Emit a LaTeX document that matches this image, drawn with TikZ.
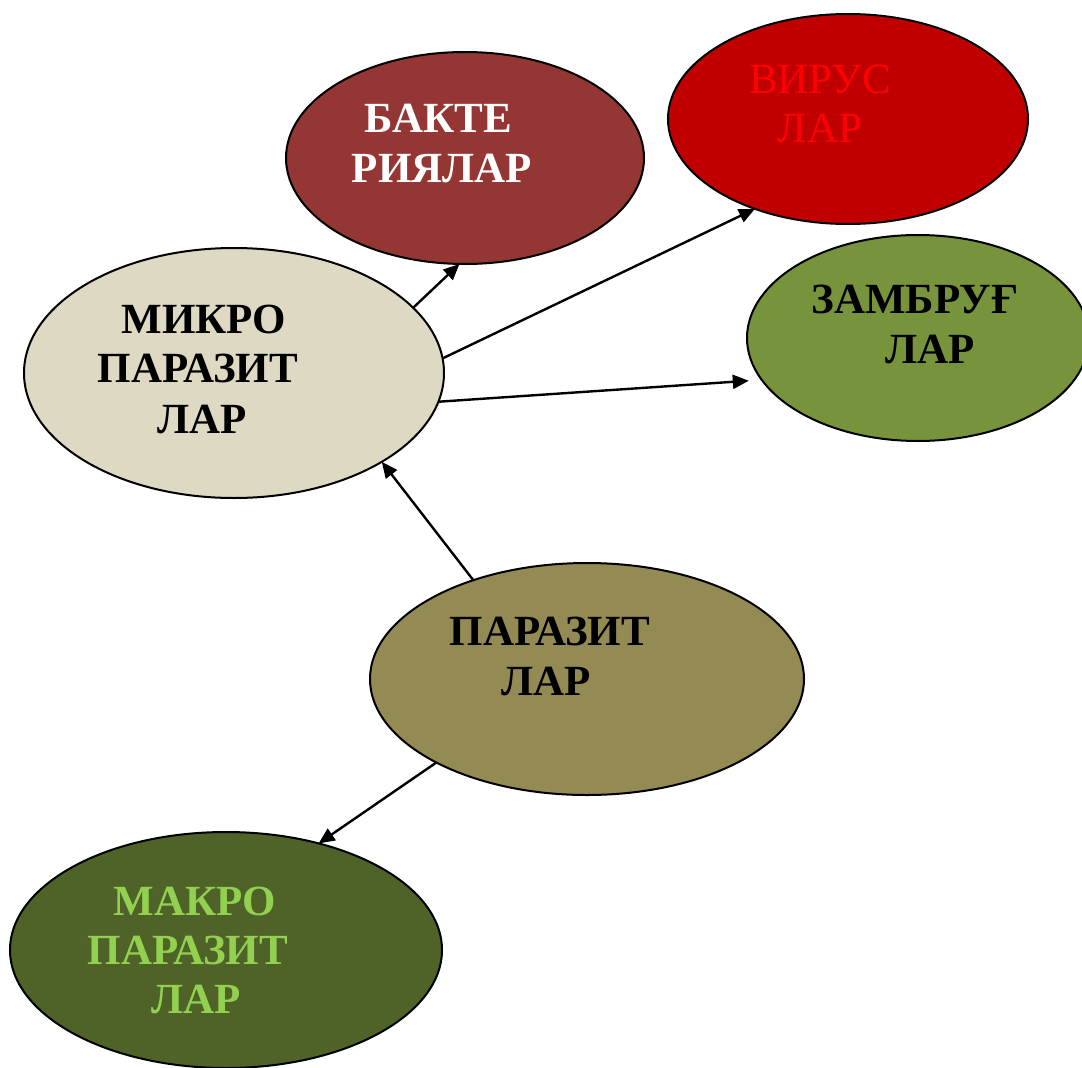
\documentclass[tikz,border=0pt]{standalone}
\usepackage{fontspec}
\setmainfont{Liberation Serif}
\usetikzlibrary{arrows.meta,shapes.geometric}

\definecolor{bactfill}{HTML}{943634}
\definecolor{virfill}{HTML}{C00000}
\definecolor{virtext}{HTML}{FF0000}
\definecolor{fungfill}{HTML}{77933C}
\definecolor{microfill}{HTML}{DDD9C3}
\definecolor{parfill}{HTML}{948A54}
\definecolor{macrofill}{HTML}{4F6228}
\definecolor{macrotext}{HTML}{92D050}

\tikzset{
  blob/.style={ellipse, draw=black, line width=2pt, inner sep=0pt, outer sep=0pt},
  word/.style={anchor=base, inner sep=0pt, font=\fontsize{43}{50}\selectfont\bfseries},
  thinword/.style={anchor=base, inner sep=0pt, font=\fontsize{43}{50}\selectfont},
  arr/.style={line width=2.4pt, -{Triangle[length=16pt,width=14pt]}}
}

\begin{document}
\begin{tikzpicture}[x=1pt,y=-1pt]
\useasboundingbox (0,0) rectangle (1082,1068);

% ellipses
\node[blob, fill=bactfill, minimum width=358pt, minimum height=212pt] (bact) at (465,158) {};
\node[blob, fill=virfill, minimum width=360pt, minimum height=210pt] (virus) at (848,119) {};
\node[blob, fill=fungfill, minimum width=342pt, minimum height=206pt] (fung) at (918,338) {};
\node[blob, fill=microfill, minimum width=420pt, minimum height=250pt] (micro) at (234,373) {};
\node[blob, fill=parfill, minimum width=434pt, minimum height=232pt] (par) at (587,679) {};
\node[blob, fill=macrofill, minimum width=432pt, minimum height=236pt] (macro) at (226,950) {};

% labels
\node[word, text=white] (bact1) at (438,132) {БАКТЕ};
\node[word, text=white] (bact2) at (442,182) {РИЯЛАР};

\node[thinword, text=virtext] (vir1) at (820,93) {ВИРУС};
\node[thinword, text=virtext] (vir2) at (820,142) {ЛАР};

\node[word] (fung1) at (915,313) {ЗАМБРУҒ};
\node[word] (fung2) at (930,363) {ЛАР};

\node[word] (micro1) at (204,333) {МИКРО};
\node[word] (micro2) at (198,382) {ПАРАЗИТ};
\node[word] (micro3) at (202,433) {ЛАР};

\node[word] (par1) at (550,645) {ПАРАЗИТ};
\node[word] (par2) at (546,695) {ЛАР};

\node[word, text=macrotext] (macro1) at (195,915) {МАКРО};
\node[word, text=macrotext] (macro2) at (188,964) {ПАРАЗИТ};
\node[word, text=macrotext] (macro3) at (196,1013) {ЛАР};

% connectors
\draw[arr] (micro.20.4) -- (bact.-93.8);
\draw[arr] (micro.4.6) -- (virus.-136.9);
\draw[arr, shorten >=13pt] (micro.-8.5) -- (fung.-165);
\draw[arr] (par.139.8) -- (micro.-31);
\draw[arr] (par.-151.7) -- (macro.49.2);
\end{tikzpicture}
\end{document}
